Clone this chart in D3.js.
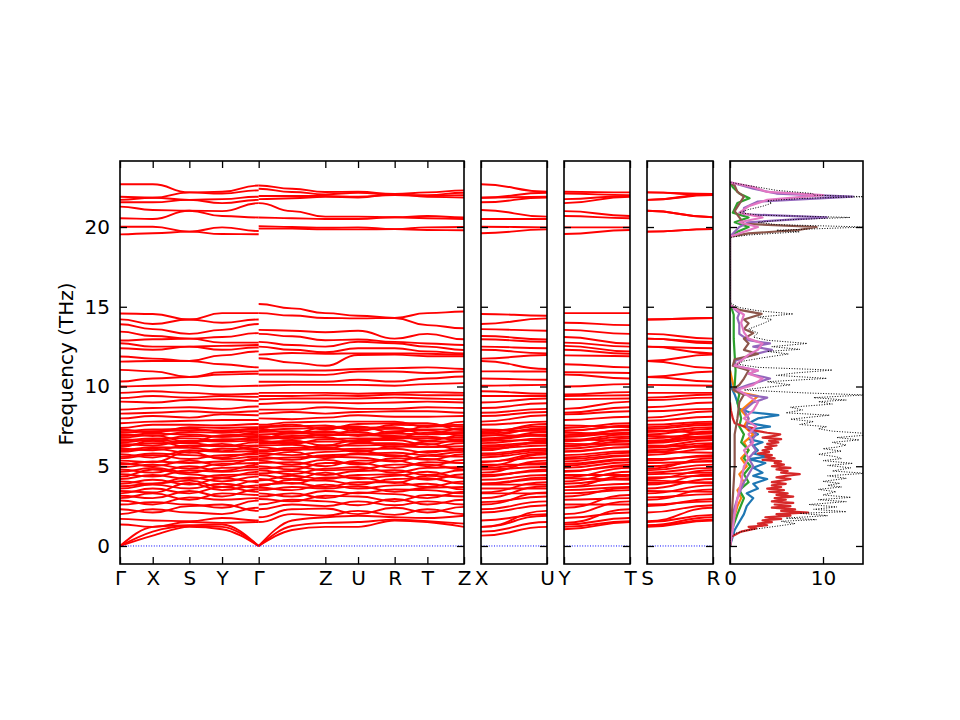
<!DOCTYPE html>
<html><head><meta charset="utf-8">
<script src="https://cdn.jsdelivr.net/npm/d3@7"></script>
<style>
body{margin:0;background:#fff}
svg{display:block}
text{font-family:"DejaVu Sans",sans-serif;font-size:20px;fill:#000}
</style>
</head><body>
<svg id="chart" width="960" height="720"></svg>
<script>
// ---------------- data ----------------
const freqTicks = [0, 5, 10, 15, 20];
const kLabels = ["Γ","X","S","Y","Γ","Z","U","R","T","Z"];
const kDist   = [0, 0.327, 0.693, 1.020, 1.386, 2.052, 2.379, 2.745, 3.072, 3.438];
const kLeft   = [0, 0.327, 0.693, 1.020, 1.386];               // Γ X S Y Γ
const kRight  = [1.386, 1.719, 2.052, 2.379, 2.745, 3.072, 3.438]; // Γ (mid) Z U R T Z
const sideLabels = [["X","U"],["Y","T"],["S","R"]];
const sideLength = 0.666;
const dosTicks = [0, 10];

// each band: [Γ, X, S, Y, Γ | Γ, mid, Z, U, R, T, Z]
const acousticBands = [
  [0, 0.65, 1.2, 1.05, 0,   0, 1.0, 1.2, 1.2, 1.6, 1.5, 1.2],
  [0, 0.9, 1.25, 1.2, 0,    0, 1.25, 1.45, 1.5, 1.65, 1.55, 1.4],
  [0, 1.2, 1.3, 1.35, 0,    0, 1.6, 1.8, 1.9, 1.8, 1.75, 1.9]
];
const lowBands = [
  [1.35, 1.2, 1.5, 1.45, 1.5,    1.5, 2.0, 1.9, 2.2, 1.95, 2.3, 2.0],
  [1.7, 1.6, 1.55, 1.75, 1.6,    1.8, 2.3, 2.35, 2.0, 2.4, 2.1, 2.45],
  [2.0, 2.3, 2.1, 2.0, 2.4,      2.3, 2.6, 2.5, 2.8, 2.55, 2.8, 2.6],
  [2.3, 2.1, 2.5, 2.6, 2.2,      2.6, 2.9, 2.8, 2.55, 2.95, 2.6, 2.9],
  [2.6, 2.75, 2.6, 2.4, 2.85,    2.95, 2.8, 3.15, 3.1, 2.8, 3.2, 3.1],
  [2.85, 2.6, 3.05, 2.9, 3.0,    3.1, 3.3, 3.0, 3.35, 3.25, 3.0, 3.4],
  [3.0, 3.3, 2.9, 3.3, 3.2,      3.3, 3.1, 3.45, 3.3, 3.55, 3.5, 3.3],
  [3.15, 3.0, 3.45, 3.1, 3.55,   3.5, 3.7, 3.6, 3.75, 3.4, 3.65, 3.7],
  [3.3, 3.6, 3.3, 3.7, 3.4,      3.65, 3.5, 3.85, 3.6, 3.8, 3.9, 3.55],
  [3.45, 3.35, 3.95, 3.5, 3.8,   3.85, 3.95, 3.7, 4.0, 4.0, 3.7, 4.05],
  [3.6, 3.85, 3.6, 3.9, 3.65,    3.75, 4.15, 4.1, 3.85, 4.2, 4.25, 3.9],
  [3.75, 3.9, 4.1, 3.7, 4.1,     4.2, 3.9, 4.3, 4.3, 3.95, 4.4, 4.3],
  [3.9, 4.15, 3.85, 4.25, 4.0,   4.1, 4.4, 4.2, 4.45, 4.5, 4.15, 4.5],
  [4.05, 3.9, 4.3, 4.05, 4.35,   4.45, 4.2, 4.6, 4.2, 4.4, 4.65, 4.25],
  [4.2, 4.45, 4.2, 4.45, 4.5,    4.55, 4.7, 4.45, 4.7, 4.75, 4.45, 4.75],
  [4.35, 4.8, 4.5, 4.3, 4.65,    4.75, 4.5, 4.85, 4.95, 4.6, 4.9, 4.95],
  [4.5, 4.35, 4.75, 4.65, 4.8,   4.85, 5.0, 4.75, 4.8, 5.1, 5.1, 4.8],
  [4.65, 4.9, 4.6, 4.9, 4.95,    5.0, 4.8, 5.2, 5.2, 4.9, 5.25, 5.2],
  [4.8, 4.6, 5.0, 4.7, 5.1,      5.2, 5.25, 5.0, 5.35, 5.35, 5.0, 5.4],
  [4.95, 5.1, 4.85, 5.15, 5.2,   5.35, 5.1, 5.4, 5.1, 5.5, 5.45, 5.2],
  [5.1, 5.3, 5.2, 5.3, 5.4,      5.45, 5.55, 5.6, 5.55, 5.3, 5.65, 5.6],
  [5.2, 5.0, 5.35, 5.05, 5.5,    5.6, 5.4, 5.7, 5.75, 5.7, 5.4, 5.75],
  [5.35, 5.25, 5.9, 5.45, 5.6,   5.65, 5.9, 5.5, 5.8, 5.85, 5.7, 5.9],
  [5.5, 5.7, 5.45, 5.7, 5.75,    5.8, 5.7, 5.9, 6.0, 5.6, 5.95, 6.0],
  [5.6, 5.8, 5.7, 5.55, 5.85,    5.9, 6.05, 6.05, 6.1, 6.1, 5.85, 6.1],
  [5.75, 5.55, 6.0, 5.9, 5.95,   6.0, 6.15, 6.2, 5.9, 6.25, 6.2, 6.25],
  [5.9, 6.1, 5.85, 6.1, 6.1,     6.2, 6.0, 6.3, 6.3, 6.35, 6.4, 6.0],
  [6.0, 6.2, 6.15, 5.95, 6.25,   6.3, 6.35, 6.1, 6.45, 6.45, 6.2, 6.45],
  [6.1, 6.0, 6.3, 6.25, 6.3,     6.4, 6.5, 6.55, 6.55, 6.2, 6.55, 6.55],
  [6.2, 6.6, 6.2, 6.4, 6.0,      6.5, 6.6, 6.3, 6.65, 6.65, 6.35, 6.7],
  [6.3, 6.45, 6.45, 6.25, 6.5,   6.6, 6.4, 6.7, 6.75, 6.75, 6.75, 6.8],
  [6.4, 6.3, 6.6, 6.55, 6.6,     6.7, 6.8, 6.8, 6.5, 6.85, 6.85, 6.6],
  [6.5, 6.65, 6.5, 6.7, 6.7,     6.8, 6.9, 6.95, 6.95, 6.9, 6.6, 6.95],
  [6.6, 6.75, 6.75, 6.6, 6.8,    6.9, 6.7, 7.0, 7.0, 7.05, 7.0, 7.05],
  [6.7, 6.6, 6.9, 6.85, 6.9,     7.0, 7.05, 7.1, 7.15, 6.8, 7.1, 7.15],
  [6.8, 6.95, 6.5, 6.95, 7.0,    6.7, 7.1, 7.2, 6.9, 7.2, 7.25, 6.9],
  [6.9, 7.05, 7.0, 6.85, 7.1,    7.15, 7.2, 6.9, 7.3, 7.35, 7.3, 7.3],
  [7.0, 6.9, 7.15, 7.1, 7.2,     7.25, 7.35, 7.4, 7.4, 7.45, 7.0, 7.4],
  [7.1, 7.2, 7.25, 7.25, 7.3,    7.35, 7.05, 7.45, 7.5, 7.1, 7.5, 7.5],
  [7.2, 7.3, 7.35, 7.2, 7.35,    7.45, 7.5, 7.55, 7.2, 7.6, 7.55, 7.6],
  [7.3, 7.1, 7.45, 7.4, 7.45,    7.5, 7.6, 7.3, 7.65, 7.7, 7.7, 7.25],
  [7.4, 7.6, 7.6, 7.55, 7.65,    7.6, 7.75, 7.8, 7.8, 7.8, 7.45, 7.8],
  [7.7, 7.8, 7.85, 7.9, 7.9,     8.0, 7.95, 8.05, 8.2, 8.1, 8.1, 8.15],
  [8.0, 8.15, 8.05, 8.25, 8.2,   8.3, 8.4, 8.3, 8.4, 8.45, 8.45, 8.35],
  [8.3, 8.35, 8.45, 8.35, 8.45,  8.55, 8.55, 8.7, 8.6, 8.6, 8.7, 8.65],
  [8.55, 8.65, 8.7, 8.6, 8.75,   8.9, 9.0, 9.0, 8.95, 9.0, 9.05, 9.0],
  [9.05, 9.0, 9.15, 9.2, 9.1,    9.2, 9.25, 9.25, 9.25, 9.3, 9.25, 9.2],
  [9.27, 9.4, 9.3, 9.4, 9.35,    9.4, 9.4, 9.45, 9.4, 9.5, 9.45, 9.45],
  [9.6, 9.7, 9.6, 9.5, 9.55,     9.6, 9.6, 9.6, 9.55, 9.6, 9.65, 9.6]
];
const midBands = [
  [14.58, 14.55, 14.2, 14.6, 14.6,   15.17, 14.9, 14.6, 14.44, 14.3, 14.6, 14.7],
  [14.21, 13.92, 14.2, 14.0, 14.2,   14.6, 14.45, 14.3, 14.27, 14.3, 13.85, 13.65],
  [13.9, 13.6, 13.3, 13.55, 13.92,   13.55, 13.5, 13.4, 13.5, 13.0, 13.3, 12.96],
  [13.44, 13.17, 13.0, 13.1, 13.35,  13.3, 13.15, 12.9, 12.95, 12.8, 12.7, 12.6],
  [12.88, 12.96, 13.0, 12.75, 12.75, 12.8, 12.6, 12.5, 12.81, 12.71, 12.5, 12.29],
  [12.71, 12.5, 12.5, 12.55, 12.6,   12.5, 12.3, 12.15, 12.4, 12.4, 12.2, 12.08],
  [12.4, 12.3, 12.5, 12.3, 12.45,    12.0, 12.1, 12.05, 12.08, 12.08, 12.05, 12.0],
  [11.88, 11.75, 11.6, 11.95, 12.2,  11.77, 11.5, 11.3, 11.98, 12.0, 11.9, 11.9],
  [11.56, 11.6, 11.6, 11.4, 11.2,    11.0, 11.0, 11.0, 11.1, 11.15, 11.2, 11.1],
  [11.04, 10.95, 10.6, 10.9, 10.95,  10.75, 10.75, 10.73, 10.94, 10.94, 10.85, 10.94],
  [10.31, 10.5, 10.6, 10.75, 10.8,   10.3, 10.3, 10.3, 10.42, 10.31, 10.5, 10.63],
  [10.0, 10.05, 10.1, 10.0, 10.05,   10.05, 10.1, 10.1, 10.1, 10.05, 10.15, 10.21]
];
const topBands = [
  [22.68, 22.68, 22.17, 22.21, 22.6,  22.6, 22.4, 22.2, 22.21, 22.07, 22.17, 22.3],
  [21.9, 21.84, 22.17, 22.1, 22.3,    22.4, 22.2, 22.05, 22.15, 22.0, 22.0, 22.15],
  [21.7, 21.84, 21.7, 21.75, 21.9,    21.95, 21.95, 21.95, 21.9, 22.0, 21.95, 22.0],
  [21.55, 21.55, 21.7, 21.5, 21.7,    21.75, 21.8, 21.9, 21.85, 22.07, 21.9, 21.85],
  [21.28, 21.07, 21.02, 21.0, 21.5,   21.5, 21.0, 20.65, 20.65, 20.61, 20.69, 20.6],
  [20.55, 20.5, 21.02, 20.69, 20.6,   20.6, 20.55, 20.5, 20.5, 20.61, 20.55, 20.5],
  [20.02, 20.02, 19.71, 19.98, 19.75, 20.05, 20.0, 19.95, 19.98, 19.87, 19.98, 20.0],
  [19.54, 19.61, 19.71, 19.56, 19.55, 19.9, 19.9, 19.85, 19.85, 19.87, 19.81, 19.8]
];

// DOS: [frequency, density]
const dosTotal = [[0,0],[0.5,0.05],[0.8,0.6],[1.0,2.0],[1.2,4.5],[1.4,7.0],[1.55,5.5],[1.65,9.3],[1.75,6.0],[1.9,10.5],[2.05,7.5],[2.15,12.5],[2.3,9.0],[2.45,11.5],[2.6,8.5],[2.78,12.5],[2.9,9.5],[3.05,13.0],[3.2,10.0],[3.4,11.4],[3.55,9.5],[3.7,12.0],[3.8,10.5],[3.93,11.8],[4.05,10.0],[4.24,12.5],[4.4,10.5],[4.56,14.6],[4.7,11.0],[4.9,13.0],[5.05,10.5],[5.18,13.2],[5.35,10.0],[5.48,12.0],[5.6,11.4],[5.75,9.5],[5.95,12.0],[6.1,10.0],[6.2,11.5],[6.33,12.5],[6.5,11.0],[6.65,13.9],[6.8,11.5],[6.95,14.6],[7.06,14.6],[7.2,11.0],[7.35,9.5],[7.48,10.4],[7.62,7.5],[7.8,9.0],[7.95,6.5],[8.2,10.7],[8.35,6.0],[8.53,7.8],[8.7,6.5],[8.9,11.0],[9.05,9.5],[9.15,12.5],[9.3,9.0],[9.47,14.6],[9.6,8.0],[9.78,1.5],[9.9,3.0],[10.1,6.5],[10.3,4.0],[10.51,10.4],[10.7,5.0],[10.85,7.0],[11.03,11.0],[11.2,3.0],[11.4,0.8],[11.6,1.5],[11.8,3.5],[12.04,6.3],[12.2,4.0],[12.33,7.5],[12.5,4.5],[12.7,8.3],[12.9,4.0],[13.1,2.5],[13.35,3.0],[13.6,2.0],[13.96,3.6],[14.2,4.5],[14.35,3.0],[14.55,6.8],[14.75,3.0],[14.95,1.0],[15.15,0.3],[15.3,0],[19.35,0],[19.5,2.0],[19.7,7.5],[19.8,5.0],[20.0,14.6],[20.15,5.0],[20.3,3.0],[20.45,6.0],[20.6,12.9],[20.75,3.0],[20.9,1.0],[21.1,2.0],[21.3,3.5],[21.5,4.5],[21.65,4.0],[21.8,8.0],[21.9,14.6],[22.0,9.0],[22.1,8.9],[22.3,5.0],[22.5,3.0],[22.65,1.5],[22.8,0]];
const dosBlue = [[0,0],[1.0,0.5],[1.5,1.0],[2.0,1.5],[2.5,1.8],[3.0,2.5],[3.3,1.8],[3.6,3.0],[3.9,2.5],[4.2,4.0],[4.4,2.5],[4.6,3.5],[4.9,2.5],[5.2,3.8],[5.45,2.0],[5.6,4.0],[5.8,2.5],[6.0,3.0],[6.3,2.5],[6.5,3.5],[6.7,2.0],[7.0,3.0],[7.3,2.0],[7.48,4.3],[7.7,2.0],[8.0,3.0],[8.2,5.2],[8.4,2.0],[8.6,1.0],[9.0,0.8],[9.5,0.5],[10,0.1],[11,0]];
const dosOrange = [[0,0],[1.5,0.3],[2.5,0.8],[3.0,1.2],[3.5,0.8],[4.0,1.5],[4.5,1.0],[5.0,1.8],[5.5,1.2],[6.0,2.0],[6.5,1.5],[7.0,2.5],[7.5,1.5],[8.0,2.0],[8.5,1.2],[9.0,2.2],[9.4,3.0],[9.7,0.5],[10.5,0.2],[11,0]];
const dosGreen = [[0,0],[1.0,0.2],[2.0,0.8],[3.0,1.5],[3.5,1.0],[4.0,2.0],[4.5,1.5],[5.0,2.2],[5.5,1.5],[6.0,2.0],[6.5,1.2],[7.0,1.5],[7.5,1.0],[8.0,1.2],[9.0,0.8],[9.5,1.0],[10.0,0.5],[11,0.6],[12,0.5],[13,0.4],[14.5,0.4],[15.2,0],[19.4,0],[19.7,0.8],[20.0,2.0],[20.3,0.5],[20.6,2.0],[20.9,0.3],[21.5,0.8],[21.8,2.1],[22.1,1.0],[22.5,0.3],[22.8,0]];
const dosRed = [[0,0],[0.6,0.2],[0.9,1.2],[1.1,2.8],[1.2,2.0],[1.3,4.0],[1.4,3.0],[1.5,4.5],[1.6,3.5],[1.7,5.5],[1.8,3.8],[1.9,6.5],[2.0,5.0],[2.1,8.4],[2.2,5.5],[2.3,7.0],[2.4,4.5],[2.5,6.5],[2.6,4.8],[2.7,6.8],[2.8,4.5],[2.9,6.0],[3.0,4.8],[3.1,6.8],[3.2,5.0],[3.3,6.2],[3.4,4.2],[3.5,5.8],[3.6,4.0],[3.7,5.5],[3.8,4.5],[3.9,6.0],[4.0,4.5],[4.1,5.5],[4.2,6.5],[4.3,5.0],[4.4,6.0],[4.5,7.5],[4.6,5.5],[4.7,6.2],[4.8,5.0],[4.9,6.5],[5.0,4.5],[5.1,5.8],[5.2,4.8],[5.3,5.5],[5.4,3.5],[5.5,4.8],[5.6,3.8],[5.7,4.5],[5.8,3.0],[5.9,4.2],[6.0,3.5],[6.1,4.5],[6.2,3.8],[6.3,5.0],[6.4,4.0],[6.5,5.2],[6.6,4.2],[6.7,5.5],[6.8,3.5],[6.9,4.8],[7.0,5.4],[7.1,4.0],[7.2,3.0],[7.3,2.0],[7.4,2.5],[7.5,1.5],[7.7,0.5],[8.0,0.3],[8.5,0.1],[9.0,0]];
const dosPurple = [[0,0],[2.0,0.3],[3.0,0.8],[4.0,1.5],[4.5,2.0],[5.0,2.5],[5.5,2.0],[6.0,2.8],[6.5,2.2],[7.0,2.8],[7.5,1.8],[8.0,2.0],[8.5,1.5],[9.0,2.5],[9.3,4.0],[9.5,1.5],[9.8,0.5],[10.1,2.0],[10.5,4.3],[10.8,2.0],[11.0,3.0],[11.3,0.5],[11.6,0.5],[12.0,2.5],[12.3,4.5],[12.5,2.5],[12.7,4.3],[12.9,2.0],[13.3,1.0],[13.9,1.0],[14.3,0.8],[14.6,1.0],[15.1,0],[19.4,0],[19.7,0.5],[20.0,1.0],[20.3,2.0],[20.6,10.4],[20.8,1.5],[21.2,1.5],[21.6,3.0],[21.9,13.2],[22.1,5.0],[22.4,2.5],[22.65,1.0],[22.8,0]];
const dosBrown = [[0,0],[3,0.3],[5,0.5],[7,0.5],[8,0.8],[9,1.0],[9.5,1.5],[9.8,0.3],[10.1,1.0],[10.5,1.5],[11.0,2.0],[11.3,0.3],[11.7,0.5],[12.04,3.0],[12.3,1.5],[12.7,2.0],[13.0,1.5],[13.35,2.5],[13.6,1.5],[13.96,2.0],[14.2,1.5],[14.55,3.4],[14.8,1.0],[15.1,0],[19.4,0],[19.6,2.0],[19.8,7.2],[20.0,9.3],[20.2,1.5],[20.6,1.0],[21.0,0.5],[21.9,1.5],[22.2,0.8],[22.6,0.5],[22.8,0]];
const dosPink = [[0,0],[1.0,0.3],[2.0,0.5],[3.0,0.8],[4.0,1.2],[5.0,1.5],[5.5,2.0],[6.0,1.5],[6.5,2.5],[7.0,2.0],[7.5,2.8],[8.0,1.5],[8.5,2.5],[9.0,3.0],[9.4,2.0],[9.8,0.8],[10.1,2.5],[10.5,3.5],[10.8,2.0],[11.0,3.0],[11.3,0.5],[12.0,2.0],[12.3,3.0],[12.7,3.5],[13.0,2.0],[13.4,1.5],[14.0,1.2],[14.5,1.5],[15.1,0],[19.4,0],[19.7,1.5],[20.0,3.0],[20.3,1.0],[20.6,3.5],[20.9,1.0],[21.3,2.0],[21.7,4.0],[22.0,10.0],[22.2,4.0],[22.5,2.5],[22.8,0]];
const dosPartials = [dosBlue, dosOrange, dosGreen, dosRed, dosPurple, dosBrown, dosPink];
const dosColors = ["#1f77b4","#ff7f0e","#2ca02c","#d62728","#9467bd","#8c564b","#e377c2"];

// ---------------- layout ----------------
const svg = d3.select("#chart");
const T = 161, B = 564;
const y = d3.scaleLinear().domain([-1.13, 24.14]).range([B, T]);
const x1 = d3.scaleLinear().domain([0, kDist[kDist.length-1]]).range([120, 464]);
const sideX = [
  d3.scaleLinear().domain([0, sideLength]).range([481, 547]),
  d3.scaleLinear().domain([0, sideLength]).range([564, 630]),
  d3.scaleLinear().domain([0, sideLength]).range([647, 713])
];
const xd = d3.scaleLinear().domain([0, 14.3]).range([730, 863]);

const allBands = acousticBands.concat(lowBands, midBands, topBands);
const isAcoustic = b => b[0] === 0;

const defs = svg.append("defs");
function clipFor(id, sx) {
  defs.append("clipPath").attr("id", id).append("rect")
    .attr("x", sx.range()[0]).attr("y", T).attr("width", sx.range()[1]-sx.range()[0]).attr("height", B-T);
  return "url(#" + id + ")";
}

function axes(sx, xTickVals, xTickLabels, showY) {
  const g = svg.append("g");
  const x0 = sx.range()[0], xe = sx.range()[1];
  const left = d3.axisLeft(y).tickValues(freqTicks).tickSize(-7).tickSizeOuter(0).tickPadding(10)
     .tickFormat(showY ? d3.format("d") : "");
  const right = d3.axisRight(y).tickValues(freqTicks).tickSize(-7).tickSizeOuter(0).tickFormat("");
  const bottom = d3.axisBottom(sx).tickValues(xTickVals).tickSize(-7).tickSizeOuter(0).tickPadding(7)
     .tickFormat((d,i) => xTickLabels[i]);
  const top = d3.axisTop(sx).tickValues(xTickVals).tickSize(-7).tickSizeOuter(0).tickFormat("");
  const parts = [
    g.append("g").attr("transform", `translate(${x0},0)`).call(left),
    g.append("g").attr("transform", `translate(${xe},0)`).call(right),
    g.append("g").attr("transform", `translate(0,${B})`).call(bottom),
    g.append("g").attr("transform", `translate(0,${T})`).call(top)
  ];
  parts.forEach(p => {
    p.select(".domain").remove();
    p.selectAll(".tick line").attr("stroke", "#000").attr("stroke-width", 1.3);
    p.selectAll(".tick text").attr("font-size", 20).attr("font-family", "DejaVu Sans, sans-serif").attr("fill", "#000");
  });
  g.append("rect").attr("x", x0).attr("y", T).attr("width", xe-x0).attr("height", B-T)
    .attr("fill", "none").attr("stroke", "#000").attr("stroke-width", 1.6);
}

const bandColor = "#ff0000";
const bandWidth = 1.9;

// ---- main panel ----
const g1 = svg.append("g").attr("clip-path", clipFor("c1", x1));
allBands.forEach(b => {
  const curve = isAcoustic(b) ? d3.curveMonotoneX : d3.curveBumpX;
  const line = d3.line().x(d => x1(d[0])).y(d => y(d[1])).curve(curve);
  const leftPts = kLeft.map((k,i) => [k, b[i]]);
  const rightPts = kRight.map((k,i) => [k, b[5+i]]);
  g1.append("path").attr("d", line(leftPts)).attr("fill","none").attr("stroke",bandColor).attr("stroke-width",bandWidth);
  g1.append("path").attr("d", line(rightPts)).attr("fill","none").attr("stroke",bandColor).attr("stroke-width",bandWidth);
});
g1.append("line").attr("x1", x1(0)).attr("x2", x1(kDist[kDist.length-1])).attr("y1", y(0)).attr("y2", y(0))
  .attr("stroke", "blue").attr("stroke-width", 1).attr("stroke-dasharray", "1,1.6");
axes(x1, kDist, kLabels, true);

// ---- side panels: X-U, Y-T, S-R ----
const sideIndex = { X:1, S:2, Y:3, U:8, R:9, T:10 };
sideX.forEach((sx, p) => {
  const g = svg.append("g").attr("clip-path", clipFor("cs"+p, sx));
  const [a, bLab] = sideLabels[p];
  allBands.forEach(b => {
    const pts = [[0, b[sideIndex[a]]], [sideLength, b[sideIndex[bLab]]]];
    const line = d3.line().x(d => sx(d[0])).y(d => y(d[1])).curve(d3.curveBumpX);
    g.append("path").attr("d", line(pts)).attr("fill","none").attr("stroke",bandColor).attr("stroke-width",bandWidth);
  });
  g.append("line").attr("x1", sx(0)).attr("x2", sx(sideLength)).attr("y1", y(0)).attr("y2", y(0))
    .attr("stroke", "blue").attr("stroke-width", 1).attr("stroke-dasharray", "1,1.6");
  axes(sx, [0, sideLength], sideLabels[p], false);
});

// ---- DOS panel ----
const gd = svg.append("g").attr("clip-path", clipFor("cd", xd));
const dosLine = d3.line().x(d => xd(d[1])).y(d => y(d[0]));
dosPartials.forEach((s, i) => {
  gd.append("path").attr("d", dosLine(s)).attr("fill","none").attr("stroke",dosColors[i])
    .attr("stroke-width", 2.2).attr("stroke-linejoin","round");
});
gd.append("path").attr("d", dosLine(dosTotal)).attr("fill","none").attr("stroke","#000")
  .attr("stroke-width", 1).attr("stroke-dasharray", "1,1.6");
axes(xd, dosTicks, dosTicks.map(String), false);

// ---- y label ----
svg.append("text").attr("transform", "translate(73,364) rotate(-90)")
  .attr("text-anchor", "middle").text("Frequency (THz)");
</script>
</body></html>
